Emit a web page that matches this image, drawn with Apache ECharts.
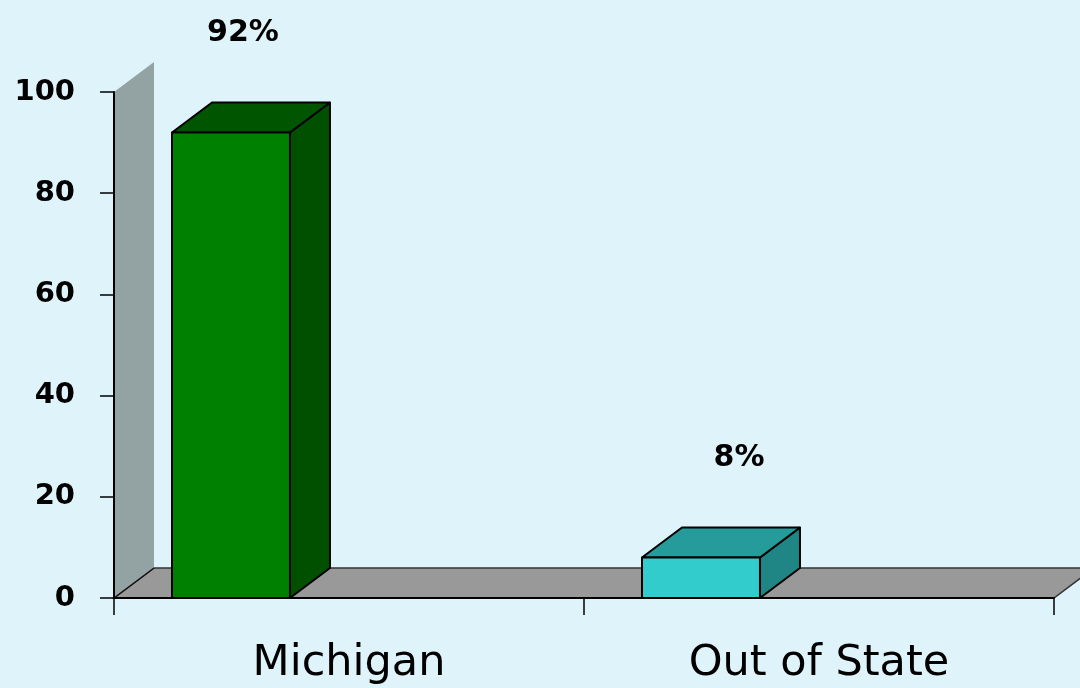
<!DOCTYPE html>
<html><head>
<meta charset="utf-8">
<title>Michigan vs Out of State</title>
<script src="https://cdn.jsdelivr.net/npm/echarts@6/dist/echarts.min.js"></script>
<style>
html,body{margin:0;padding:0;background:#dff3fa;}
#main{width:1080px;height:688px;}
</style>
</head>
<body>
<div id="main"></div>
<script type="text/javascript">
// chart data
var categories = ['Michigan', 'Out of State'];
var values = [92, 8];
var valueLabels = ['92%', '8%'];
var frontColors = ['#008000', '#33cccc'];
var darkColors = ['#005500', '#259b9b'];
var sideColors = ['#005000', '#1f8585'];
// horizontal nudge of the value labels, px from the front face's left edge
var labelNudge = [71, 97];

var DX = 40, DY = -30;   // depth of the 3d effect

var myChart = echarts.init(document.getElementById('main'), null, {renderer: 'canvas'});

function wallAndFloor(params, api) {
    var cs = params.coordSys;
    var x0 = cs.x, y0 = cs.y + cs.height, x1 = cs.x + cs.width, yTop = cs.y;
    return {
        type: 'group',
        children: [
            {
                type: 'polygon',
                shape: {points: [[x0, y0], [x1, y0], [x1 + DX, y0 + DY], [x0 + DX, y0 + DY]]},
                style: {fill: '#999999', stroke: '#333', lineWidth: 1.5}
            },
            {
                type: 'polygon',
                shape: {points: [[x0, y0], [x0, yTop], [x0 + DX, yTop + DY], [x0 + DX, y0 + DY]]},
                style: {fill: '#93a3a4', stroke: 'none'}
            },
            {
                type: 'line',
                shape: {x1: x0, y1: y0, x2: x0 + DX, y2: y0 + DY},
                style: {stroke: '#111', lineWidth: 1.5}
            }
        ]
    };
}

function bar3d(params, api) {
    var i = params.dataIndex;
    var top = api.coord([api.value(0), api.value(1)]);
    var base = api.coord([api.value(0), 0]);
    var bw = api.size([1, 0])[0];
    var left = top[0] - bw / 2 + bw * 0.1234;
    var w = bw * 0.251;
    var right = left + w;
    var yt = top[1], yb = base[1];
    var edge = {stroke: '#000', lineWidth: 2, lineJoin: 'round'};
    return {
        type: 'group',
        children: [
            {
                type: 'polygon',
                shape: {points: [[right, yb], [right, yt], [right + DX, yt + DY], [right + DX, yb + DY]]},
                style: Object.assign({fill: sideColors[i]}, edge)
            },
            {
                type: 'polygon',
                shape: {points: [[left, yt], [right, yt], [right + DX, yt + DY], [left + DX, yt + DY]]},
                style: Object.assign({fill: darkColors[i]}, edge)
            },
            {
                type: 'rect',
                shape: {x: left, y: yt, width: w, height: yb - yt},
                style: Object.assign({fill: frontColors[i]}, edge)
            },
            {
                type: 'text',
                x: left + labelNudge[i],
                y: yt - 99,
                style: {
                    text: valueLabels[i],
                    fill: '#000',
                    font: 'bold 30px "DejaVu Sans"',
                    textAlign: 'center',
                    textVerticalAlign: 'middle'
                }
            }
        ]
    };
}

var option = {
    backgroundColor: '#dff3fa',
    animation: false,
    grid: {left: 114, right: 26, top: 92, bottom: 90},
    xAxis: {
        type: 'category',
        data: categories,
        z: 10,
        axisLine: {show: true, lineStyle: {color: '#000', width: 2}},
        axisTick: {show: true, length: 17, interval: 0, lineStyle: {color: '#000', width: 1.5}},
        axisLabel: {
            margin: 44,
            color: '#000',
            fontSize: 43,
            fontFamily: 'DejaVu Sans'
        }
    },
    yAxis: {
        type: 'value',
        min: 0,
        max: 100,
        interval: 20,
        z: 10,
        splitLine: {show: false},
        axisLine: {show: true, lineStyle: {color: '#000', width: 2}},
        axisTick: {show: true, length: 14, lineStyle: {color: '#000', width: 1.5}},
        axisLabel: {
            margin: 39,
            color: '#000',
            fontSize: 29,
            fontWeight: 'bold',
            fontFamily: 'DejaVu Sans'
        }
    },
    series: [
        {
            type: 'custom',
            renderItem: wallAndFloor,
            data: [[0, 0]],
            z: 1,
            silent: true
        },
        {
            type: 'custom',
            renderItem: bar3d,
            data: values.map(function (v, k) { return [k, v]; }),
            z: 2
        }
    ]
};

myChart.setOption(option);
</script>
</body>
</html>
